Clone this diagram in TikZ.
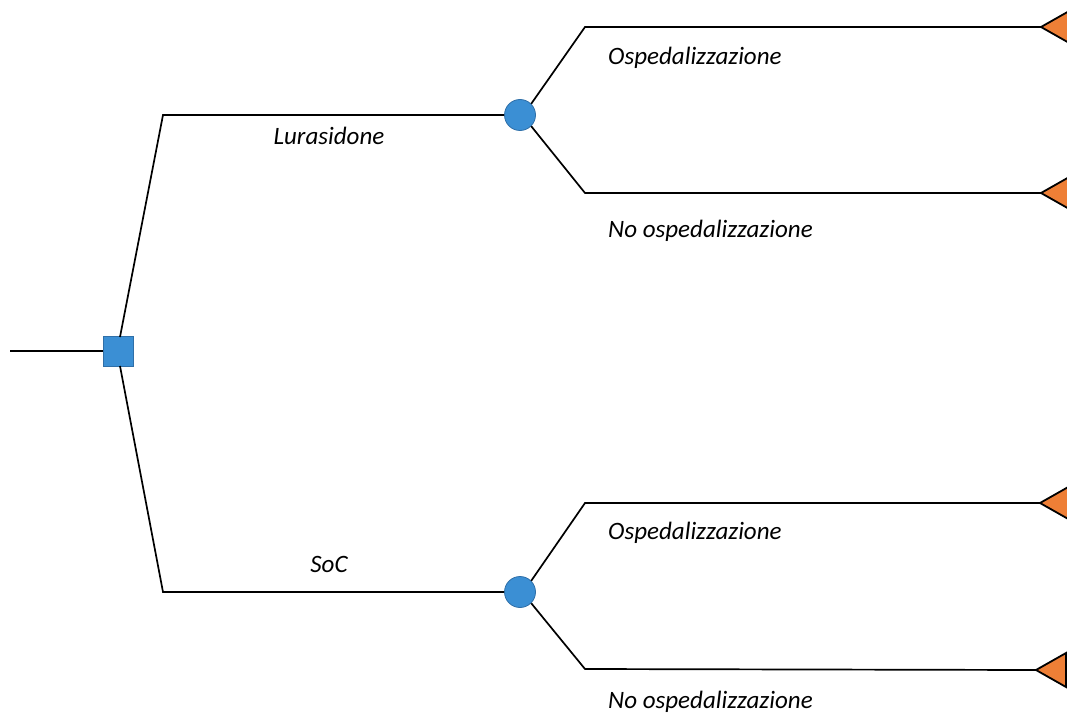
\documentclass[tikz,border=0pt]{standalone}
\usepackage{fontspec}
\setmainfont{Carlito}
\definecolor{nodeblue}{HTML}{3B8FD4}
\definecolor{nodeedge}{HTML}{2F6FA8}
\definecolor{leaforange}{HTML}{EE7F36}
\tikzset{
  branch/.style={draw=black, line width=1.7pt},
  decision/.style={draw=nodeedge, fill=nodeblue, line width=0.8pt, minimum size=30pt, inner sep=0pt},
  chance/.style={circle, draw=nodeedge, fill=nodeblue, line width=0.8pt, minimum size=31pt, inner sep=0pt},
  leaf/.style={draw=black, fill=leaforange, line width=1.8pt, line join=miter},
  lbl/.style={font=\fontsize{25}{28}\selectfont\itshape, inner sep=0pt}
}
\begin{document}
\begin{tikzpicture}[x=1pt,y=-1pt]
\useasboundingbox (0,0) rectangle (1067,714);
\clip (0,0) rectangle (1067,714);
% root
\coordinate (start) at (10,351);
\node[decision] (dec) at (118,351) {};
\draw[branch] (start) -- (dec.west);
% upper branch
\coordinate (ku) at (163,115);
\coordinate (du) at (120,337);
\node[chance] (c1) at (520,115) {};
\draw[branch] (du) -- (ku) -- (c1.west);
% lower branch
\coordinate (kl) at (163,592);
\coordinate (dl) at (120,366);
\node[chance] (c2) at (520,592) {};
\draw[branch] (dl) -- (kl) -- (c2.west);
% leaves
\foreach \n/\tx/\ty in {t1/1041/27, t2/1041/193, t3/1040/503, t4/1036/670}{
  \coordinate (\n) at (\tx,\ty);
  \draw[leaf] (\n) -- ++(30,-17) -- ++(0,34) -- cycle;
}
\coordinate (k1) at (585,27);
\coordinate (k2) at (585,193);
\coordinate (k3) at (585,503);
\coordinate (k4) at (585,669);
\draw[branch] (c1.north east) -- (k1) -- (t1);
\draw[branch] (c1.south east) -- (k2) -- (t2);
\draw[branch] (c2.north east) -- (k3) -- (t3);
\draw[branch] (c2.south east) -- (k4) -- (t4);
% labels
\node[lbl] (l1) at (329,136) {Lurasidone};
\node[lbl] (l2) at (329,564) {SoC};
\node[lbl, anchor=west] (o1) at (608,58) {Ospedalizzazione};
\node[lbl, anchor=west] (n1) at (608,231) {No ospedalizzazione};
\node[lbl, anchor=west] (o2) at (608,533) {Ospedalizzazione};
\node[lbl, anchor=west] (n2) at (608,702) {No ospedalizzazione};
\end{tikzpicture}
\end{document}
